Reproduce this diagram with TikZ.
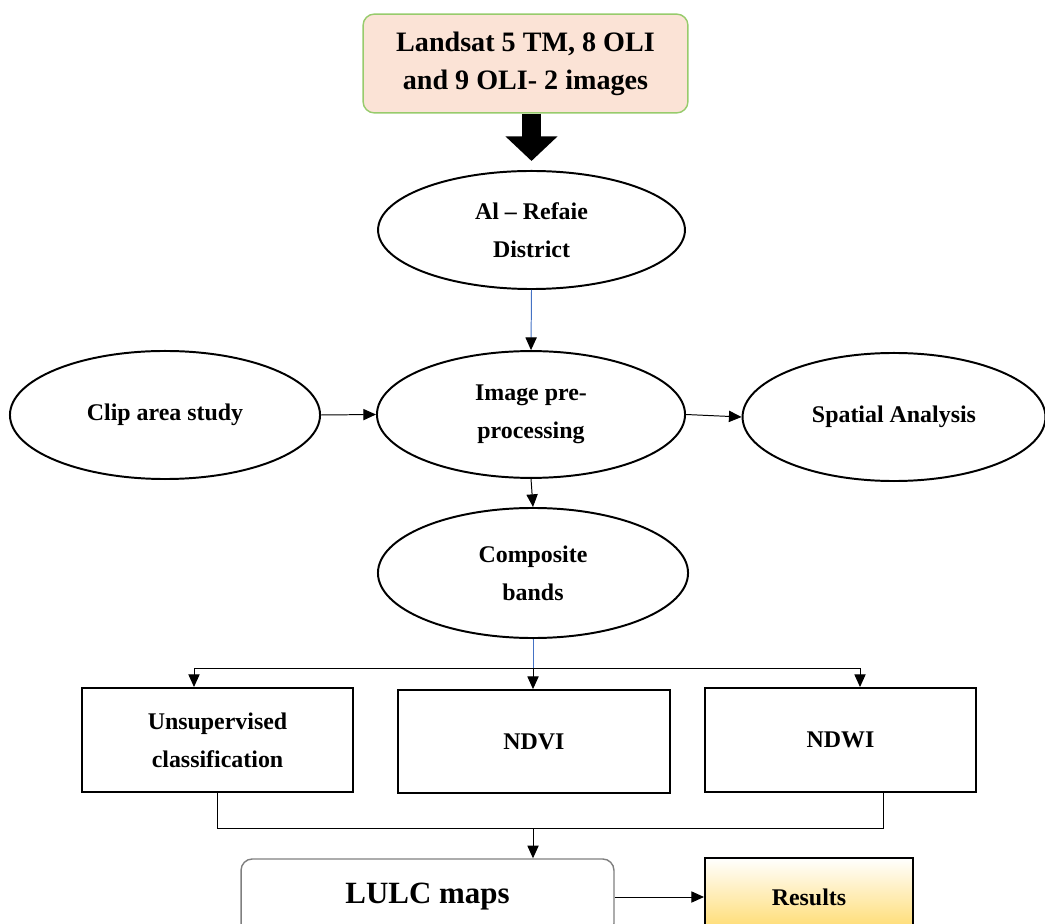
\documentclass[tikz,border=0pt]{standalone}
\usepackage{fontspec}
\setmainfont{Liberation Serif}
\usetikzlibrary{shapes.geometric,arrows.meta}
\definecolor{srcfill}{HTML}{FBE3D6}
\definecolor{srcline}{HTML}{97CB6C}
\definecolor{resfill}{HTML}{FFD966}
\definecolor{lineblue}{HTML}{4472C4}
\definecolor{lulcline}{HTML}{7F7F7F}
\begin{document}
\begin{tikzpicture}[x=0.025cm,y=-0.025cm,
  every node/.style={font=\bfseries\fontsize{17}{27}\selectfont,align=center,inner sep=0pt},
  oval/.style={ellipse,draw,line width=1.4pt},
  box/.style={rectangle,draw,line width=1.4pt},
  arr/.style={-{Triangle[length=9pt,width=8pt,color=black,fill=black]},line width=0.7pt},
  link/.style={line width=0.7pt}]
\useasboundingbox (0,0) rectangle (1045,924);
\node[rectangle,rounded corners=8pt,draw=srcline,fill=srcfill,line width=1pt,minimum width=8.12cm,minimum height=2.47cm,
  font=\bfseries\fontsize{20}{27}\selectfont] (src) at (525.5,63.5) {Landsat 5 TM, 8 OLI\\and 9 OLI- 2 images};
\node[oval,minimum width=7.67cm,minimum height=2.95cm] (dist) at (531.5,230) {Al -- Refaie\\District};
\node[oval,minimum width=7.7cm,minimum height=3.17cm] (prep) at (531,414.5) {Image pre-\\processing};
\node[oval,minimum width=7.75cm,minimum height=3.2cm] (clip) at (165,415) {Clip area study};
\node[oval,minimum width=7.57cm,minimum height=3.2cm] (spat) at (894,417) {Spatial Analysis};
\node[oval,minimum width=7.75cm,minimum height=3.25cm] (comp) at (533,573) {Composite\\bands};
\node[box,minimum width=6.77cm,minimum height=2.6cm] (unsup) at (217.5,740) {Unsupervised\\classification};
\node[box,minimum width=6.8cm,minimum height=2.57cm] (ndvi) at (534,741.5) {NDVI};
\node[box,minimum width=6.77cm,minimum height=2.6cm] (ndwi) at (840.5,740) {NDWI};
\node[rectangle,rounded corners=8pt,draw=lulcline,line width=1pt,minimum width=9.32cm,minimum height=1.9cm,
  font=\bfseries\fontsize{22}{26}\selectfont] (lulc) at (427.5,897) {LULC maps};
\node[box,top color=white,bottom color=resfill,minimum width=5.2cm,minimum height=1.95cm] (res) at (809,897) {Results};
\coordinate (split) at (533,668);
\coordinate (lft) at (194,668);
\coordinate (rgt) at (860,668);
\coordinate (mrg) at (533,828);
\coordinate (mR) at (883,828);
% links
\draw[line width=13.5pt,-{Triangle[length=17.5pt,width=36pt]},shorten >=6.4pt] (src.south -| dist.north) -- (dist.north);
\draw[arr,lineblue] (dist.south) -- (prep.north);
\draw[arr] (clip.east) -- (prep.west);
\draw[arr] (prep.east) -- (spat.west);
\draw[arr] (prep.south) -- (comp.north);
\draw[link,lineblue] (comp.south) -- (split);
\draw[link] (lft) -- (rgt);
\draw[arr] (lft) -- (lft |- unsup.north);
\draw[arr] (split) -- (split |- ndvi.north);
\draw[arr] (rgt) -- (rgt |- ndwi.north);
\draw[link] (unsup.south) |- (mR) -- (mR |- ndwi.south);
\draw[arr] (mrg) -- (mrg |- lulc.north);
\draw[arr] (lulc.east) -- (res.west);
\end{tikzpicture}
\end{document}
